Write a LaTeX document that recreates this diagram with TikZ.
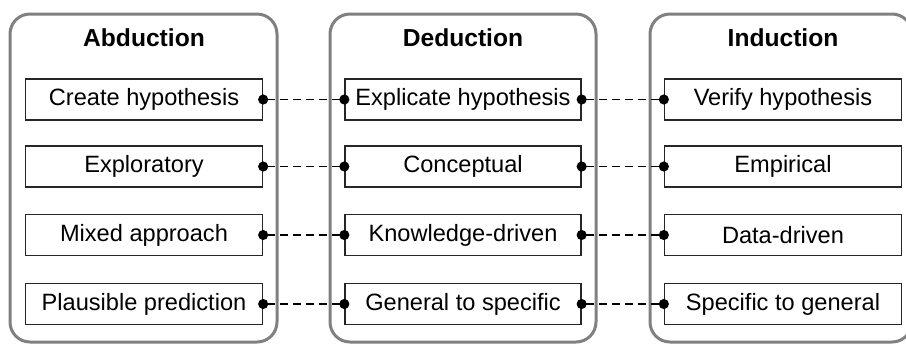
\documentclass[tikz,border=0pt]{standalone}
\usepackage{fontspec}
\setmainfont{Liberation Sans}
\usetikzlibrary{arrows.meta}
\definecolor{framegray}{RGB}{128,128,128}
\begin{document}
\begin{tikzpicture}[x=0.5pt, y=-0.5pt,
  group/.style = {draw=framegray, line width=1.5pt, rounded corners=10pt},
  title/.style = {font=\fontsize{12.3}{14}\selectfont\bfseries},
  item/.style = {draw=black!85, line width=0.65pt, minimum width=118.5pt, minimum height=20.5pt, inner sep=0pt, font=\fontsize{11.8}{14}\selectfont},
  link/.style = {line width=0.9pt, dash pattern=on 4pt off 2.5pt, {Circle[length=5pt]}-{Circle[length=5pt]}, shorten <=-2.5pt, shorten >=-2.5pt}]
\clip (0,0) rectangle (906,344);

% the three groups
\draw[group] (10,14) rectangle (277,342);
\draw[group] (330,14) rectangle (596,342);
\draw[group] (650,14) rectangle (912,342);

\node[title] (ta) at (144,38) {Abduction};
\node[title] (td) at (463,38) {Deduction};
\node[title] (ti) at (783,38) {Induction};

% Abduction
\node[item] (a1) at (144,99.5) {Create hypothesis};
\node[item] (a2) at (144,166.5) {Exploratory};
\node[item] (a3) at (144,235) {Mixed approach};
\node[item] (a4) at (144,304) {Plausible prediction};

% Deduction
\node[item, minimum width=118pt] (d1) at (463,99.5) {Explicate hypothesis};
\node[item, minimum width=118pt] (d2) at (463,166.5) {Conceptual};
\node[item, minimum width=118pt] (d3) at (463,235) {Knowledge-driven};
\node[item, minimum width=118pt] (d4) at (463,304) {General to specific};

% Induction
\node[item] (i1) at (783,99.5) {Verify hypothesis};
\node[item] (i2) at (783,166.5) {Empirical};
\node[item] (i3) at (783,235) {Data-driven};
\node[item] (i4) at (783,304) {Specific to general};

\draw[link] (a1.east) -- (d1.west);
\draw[link] (a2.east) -- (d2.west);
\draw[link] (a3.east) -- (d3.west);
\draw[link] (a4.east) -- (d4.west);

\draw[link] (d1.east) -- (i1.west);
\draw[link] (d2.east) -- (i2.west);
\draw[link] (d3.east) -- (i3.west);
\draw[link] (d4.east) -- (i4.west);

\end{tikzpicture}
\end{document}
